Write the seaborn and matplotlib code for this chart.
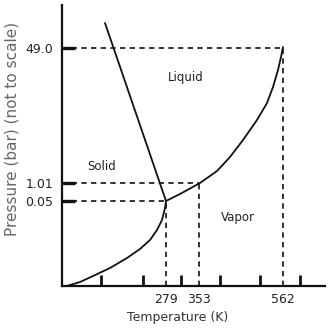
import matplotlib
matplotlib.use("Agg")
import matplotlib.pyplot as plt
import seaborn as sns
import pandas as pd

# Schematic coordinates (not to scale)
sub_x = [5, 18, 31, 48, 65, 78, 88, 95, 100, 103, 104]
sub_y = [0, 4, 10, 18, 28, 37, 46, 56, 66, 78, 85]
vap_x = [104, 118, 138, 155, 168, 181, 195, 205, 211, 216, 219, 221]
vap_y = [85, 92, 103, 115, 129, 146, 166, 183, 199, 216, 229, 239]
fus_x = [104, 43]
fus_y = [85, 263]

temp_pos = [104, 137, 221]
temp_labels = ["279", "353", "562"]
pres_pos = [238, 103, 85]
pres_labels = ["49.0", "1.01", "0.05"]
tick_marks_x = [39, 81, 119, 158, 198, 238]

regions = ["Liquid", "Solid", "Vapor"]
region_x = [124, 40, 176]
region_y = [209, 120, 69]

sns.set_style("white")
plt.rcParams["font.family"] = ["DejaVu Sans"]

fig = plt.figure(figsize=(3.34, 3.31), dpi=100)
ax = fig.add_axes([62/334, 45/331, 263/334, 281/331])

lc = "#111111"
for xs, ys in [(sub_x, sub_y), (vap_x, vap_y), (fus_x, fus_y)]:
    df = pd.DataFrame({"x": xs, "y": ys})
    sns.lineplot(data=df, x="x", y="y", sort=False, ax=ax, color=lc, lw=1.3,
                 estimator=None, solid_joinstyle="round", solid_capstyle="round")

dash = (0, (3.2, 2.6))
for xp, yp in zip(temp_pos, [85, 103, 238]):
    ax.plot([xp, xp], [0, yp], color=lc, lw=1.2, linestyle=dash)
for yp, xp in zip(pres_pos, [221, 137, 104]):
    ax.plot([0, xp], [yp, yp], color=lc, lw=1.2, linestyle=dash)

for t, x, y in zip(regions, region_x, region_y):
    ax.text(x, y, t, ha="center", va="center", fontsize=8.5, color="#222222")

ax.set_xlim(0, 263)
ax.set_ylim(0, 281)
ax.set_xticks(temp_pos)
ax.set_xticklabels(temp_labels)
ax.set_xticks(tick_marks_x, minor=True)
ax.set_yticks(pres_pos)
ax.set_yticklabels(pres_labels)
ax.tick_params(axis="x", which="major", bottom=True, length=0, pad=5, labelsize=9, labelcolor="#222222")
ax.tick_params(axis="x", which="minor", bottom=True, direction="in", length=8, width=2, color=lc)
ax.tick_params(axis="y", which="major", left=True, direction="in", length=9, width=2.4, color=lc, pad=6.5,
               labelsize=9, labelcolor="#222222")
for s in ["top", "right"]:
    ax.spines[s].set_visible(False)
for s in ["left", "bottom"]:
    ax.spines[s].set_linewidth(1.6)
    ax.spines[s].set_color(lc)
ax.set_xlabel("Temperature (K)", fontsize=9, color="#333333")
ax.set_ylabel("Pressure (bar) (not to scale)", fontsize=11, color="#666666")
ax.xaxis.set_label_coords((177.5 - 62) / 263, (286 - 318) / 281)
ax.yaxis.set_label_coords((12 - 62) / 263, (286 - 129) / 281)
ax.xaxis.label.set_va("center")
ax.yaxis.label.set_va("center")
ax.patch.set_alpha(0)
fig.savefig("out.png", dpi=100, facecolor="white")
